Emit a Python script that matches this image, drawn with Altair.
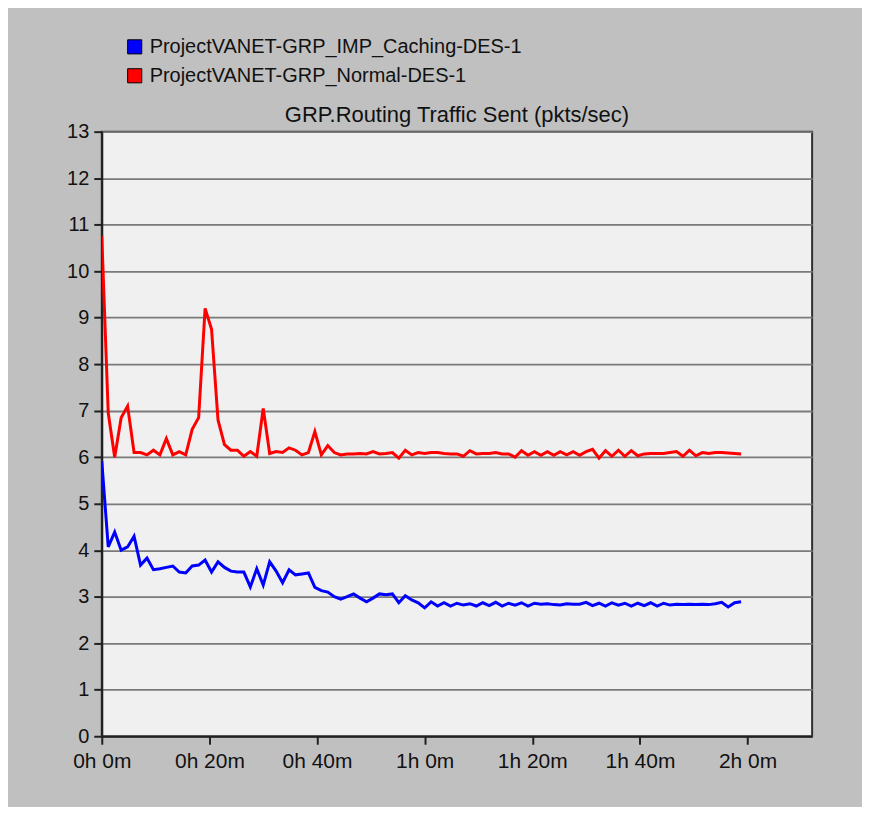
import altair as alt
import pandas as pd

# 100 buckets of 72 s (1.2 min) each
step_min = 1.2
series_names = ["ProjectVANET-GRP_IMP_Caching-DES-1", "ProjectVANET-GRP_Normal-DES-1"]

caching = [
    5.91, 4.07, 4.39, 4.00, 4.07, 4.30, 3.68, 3.83, 3.58, 3.60,
    3.63, 3.66, 3.53, 3.51, 3.66, 3.68, 3.79, 3.53, 3.75, 3.63,
    3.55, 3.53, 3.53, 3.21, 3.60, 3.25, 3.75, 3.55, 3.30, 3.58,
    3.47, 3.49, 3.51, 3.20, 3.13, 3.10, 3.00, 2.95, 3.00, 3.06,
    2.97, 2.89, 2.97, 3.06, 3.04, 3.06, 2.87, 3.02, 2.93, 2.87,
    2.76, 2.89, 2.80, 2.87, 2.80, 2.86, 2.82, 2.85, 2.80, 2.87,
    2.81, 2.88, 2.80, 2.86, 2.82, 2.87, 2.80, 2.86, 2.84, 2.85,
    2.83, 2.82, 2.85, 2.84, 2.84, 2.88, 2.81, 2.86, 2.80, 2.87,
    2.82, 2.86, 2.80, 2.86, 2.81, 2.87, 2.80, 2.86, 2.82, 2.84,
    2.83, 2.84, 2.83, 2.84, 2.83, 2.85, 2.88, 2.78, 2.87, 2.89,
]

normal = [
    10.75, 6.95, 6.00, 6.85, 7.10, 6.10, 6.10, 6.05, 6.15, 6.05,
    6.40, 6.05, 6.12, 6.05, 6.60, 6.85, 9.20, 8.75, 6.80, 6.27,
    6.15, 6.15, 6.02, 6.12, 6.02, 7.05, 6.08, 6.12, 6.10, 6.20,
    6.15, 6.05, 6.10, 6.55, 6.05, 6.25, 6.10, 6.05, 6.07, 6.07,
    6.08, 6.07, 6.12, 6.07, 6.08, 6.10, 5.98, 6.15, 6.05, 6.10,
    6.08, 6.10, 6.10, 6.08, 6.07, 6.07, 6.02, 6.14, 6.07, 6.08,
    6.08, 6.10, 6.07, 6.07, 6.00, 6.14, 6.04, 6.12, 6.04, 6.12,
    6.04, 6.12, 6.05, 6.12, 6.04, 6.12, 6.17, 5.98, 6.14, 6.02,
    6.15, 6.02, 6.14, 6.03, 6.07, 6.08, 6.08, 6.08, 6.10, 6.12,
    6.02, 6.15, 6.03, 6.10, 6.08, 6.10, 6.10, 6.09, 6.08, 6.07,
]

x_ticks = [0, 20, 40, 60, 80, 100, 120]
y_ticks = list(range(0, 14))

rows = []
for name, vals in zip(series_names, [caching, normal]):
    for i, v in enumerate(vals):
        rows.append({"t": i * step_min, "v": v, "series": name})
df = pd.DataFrame(rows)

FONT = "Liberation Sans"

color_scale = alt.Scale(domain=series_names, range=["#0000ff", "#ff0000"])

x_enc = alt.X(
    "t:Q",
    scale=alt.Scale(domain=[0, 132], nice=False, zero=False),
    axis=alt.Axis(
        values=x_ticks,
        labelExpr="floor(datum.value/60) + 'h ' + (datum.value % 60) + 'm'",
        title=None,
        grid=False,
        domainColor="#202020",
        domainWidth=2,
        tickColor="#202020",
        tickWidth=2,
        tickSize=8,
        labelFontSize=21,
        labelFont=FONT,
        labelColor="#111111",
        labelPadding=6,
        labelFlush=False,
    ),
)
y_enc = alt.Y(
    "v:Q",
    scale=alt.Scale(domain=[0, 13], nice=False),
    axis=alt.Axis(
        values=y_ticks,
        title=None,
        grid=True,
        gridColor="#7a7a7a",
        gridWidth=1.8,
        domainColor="#202020",
        domainWidth=2,
        tickColor="#202020",
        tickWidth=2,
        tickSize=8,
        labelFontSize=20,
        labelFont=FONT,
        labelColor="#111111",
        labelPadding=5,
    ),
)

base = alt.Chart(df)

lines = base.mark_line(strokeWidth=3, clip=True).encode(
    x=x_enc,
    y=y_enc,
    color=alt.Color("series:N", scale=color_scale, legend=None),
)

legend_src = base.transform_filter("false").mark_square(
    filled=True, stroke="black", strokeWidth=1
).encode(
    x=alt.X("t:Q"),
    y=alt.Y("v:Q"),
    color=alt.Color(
        "series:N",
        scale=color_scale,
        legend=alt.Legend(
            title=None,
            orient="none",
            legendX=23,
            legendY=-95,
            padding=0,
            symbolType="square",
            symbolSize=200,
            symbolStrokeColor="black",
            symbolStrokeWidth=1,
            symbolOpacity=1,
            labelFontSize=20,
            labelFont=FONT,
            labelColor="#111111",
            labelLimit=600,
            rowPadding=9,
            labelOffset=5,
        ),
    ),
)

chart = alt.layer(lines, legend_src).resolve_legend(
    color="independent"
).properties(
    width=712,
    height=606,
    title=alt.TitleParams(
        "GRP.Routing Traffic Sent (pkts/sec)",
        fontSize=22,
        font=FONT,
        fontWeight="normal",
        color="#111111",
        anchor="middle",
        frame="group",
        offset=-90,
    ),
    padding={"left": 94, "top": 123, "right": 50, "bottom": 70},
    autosize=alt.AutoSizeParams(type="none"),
    background="#c0c0c0",
).configure_view(
    fill="#f0f0f0",
    stroke="#303030",
    strokeWidth=2,
)

chart.save("out.html", embed_options={"renderer": "svg", "actions": False})
